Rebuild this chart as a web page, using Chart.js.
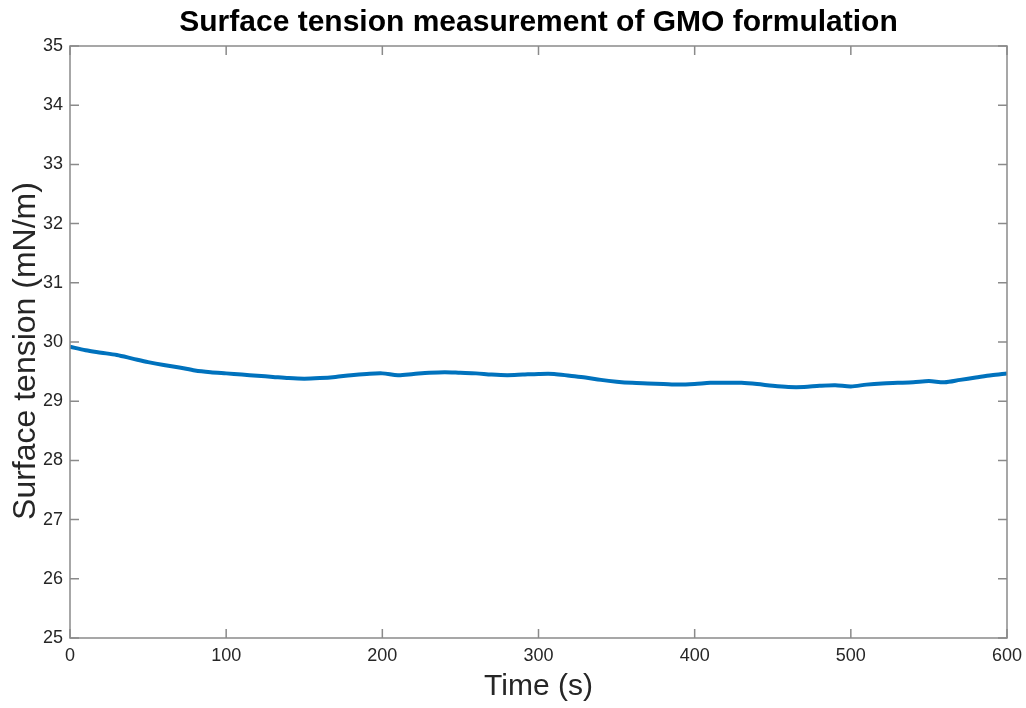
<!DOCTYPE html>
<html>
<head>
<meta charset="utf-8">
<script src="https://cdn.jsdelivr.net/npm/chart.js@4.4.0/dist/chart.umd.min.js"></script>
<style>
  html, body { margin: 0; padding: 0; background: #fff; }
  #wrap { width: 1026px; height: 708px; }
</style>
</head>
<body>
<div id="wrap"><canvas id="tensionChart" width="1026" height="708"></canvas></div>
<script>
// time in seconds, surface tension in mN/m
const timeSec = [0, 10, 20, 30, 40, 50, 60, 70, 80, 90,
  100, 110, 120, 130, 140, 150, 160, 170, 180, 190,
  200, 210, 220, 230, 240, 250, 260, 270, 280, 290,
  300, 310, 320, 330, 340, 350, 360, 370, 380, 390,
  400, 410, 420, 430, 440, 450, 460, 470, 480, 490,
  500, 510, 520, 530, 540, 550, 560, 570, 580, 590, 600];
const tension = [29.92, 29.86, 29.82, 29.78, 29.72, 29.66, 29.61, 29.57, 29.52, 29.49,
  29.47, 29.45, 29.43, 29.41, 29.39, 29.38, 29.39, 29.41, 29.44, 29.46,
  29.47, 29.44, 29.46, 29.48, 29.49, 29.48, 29.47, 29.45, 29.44, 29.45,
  29.46, 29.46, 29.43, 29.40, 29.36, 29.33, 29.31, 29.30, 29.29, 29.28,
  29.29, 29.31, 29.31, 29.31, 29.29, 29.26, 29.24, 29.24, 29.26, 29.27,
  29.25, 29.28, 29.30, 29.31, 29.32, 29.34, 29.32, 29.36, 29.40, 29.44, 29.47];
const xTicks = [0, 100, 200, 300, 400, 500, 600];
const yTicks = [25, 26, 27, 28, 29, 30, 31, 32, 33, 34, 35];

const chartTitle = 'Surface tension measurement of GMO formulation';
const yTitle = 'Surface tension (mN/m)';
const axisColor = '#8a8a8a';
const textColor = '#262626';
const fontFamily = '"Liberation Sans", Arial, sans-serif';

// matlab-like box with inward ticks on all sides, plus the titles
const boxPlugin = {
  id: 'boxPlugin',
  afterDraw(chart) {
    const { ctx, chartArea: a, scales } = chart;
    const len = 9;
    ctx.save();
    ctx.strokeStyle = axisColor;
    ctx.lineWidth = 1.5;
    ctx.strokeRect(a.left, a.top, a.right - a.left, a.bottom - a.top);
    ctx.beginPath();
    xTicks.forEach(v => {
      const px = scales.x.getPixelForValue(v);
      ctx.moveTo(px, a.bottom); ctx.lineTo(px, a.bottom - len);
      ctx.moveTo(px, a.top); ctx.lineTo(px, a.top + len);
    });
    yTicks.forEach(v => {
      const py = scales.y.getPixelForValue(v);
      ctx.moveTo(a.left, py); ctx.lineTo(a.left + len, py);
      ctx.moveTo(a.right, py); ctx.lineTo(a.right - len, py);
    });
    ctx.stroke();

    ctx.fillStyle = '#000';
    ctx.font = 'bold 30px ' + fontFamily;
    ctx.textAlign = 'center';
    ctx.textBaseline = 'middle';
    ctx.fillText(chartTitle, (a.left + a.right) / 2, 23);

    // y axis title, sits a little below the axes centre like the original
    ctx.fillStyle = textColor;
    ctx.font = '32px ' + fontFamily;
    ctx.translate(26, 351);
    ctx.rotate(-Math.PI / 2);
    ctx.fillText(yTitle, 0, 0);
    ctx.restore();
  }
};

new Chart(document.getElementById('tensionChart'), {
  type: 'line',
  data: {
    datasets: [{
      data: timeSec.map((t, i) => ({ x: t, y: tension[i] })),
      borderColor: '#0072BD',
      borderWidth: 4,
      pointRadius: 0,
      tension: 0.3,
      fill: false
    }]
  },
  options: {
    responsive: false,
    animation: false,
    layout: { padding: { left: 0, right: 19, top: 46, bottom: 0 } },
    plugins: {
      legend: { display: false },
      title: { display: false },
      tooltip: { enabled: false }
    },
    scales: {
      x: {
        type: 'linear',
        min: 0,
        max: 600,
        afterFit(scale) {
          scale.height = 70;
          scale.paddingLeft = 0;
          scale.paddingRight = 0;
        },
        afterBuildTicks(scale) { scale.ticks = xTicks.map(v => ({ value: v })); },
        grid: { display: false, drawTicks: false },
        border: { display: false },
        ticks: {
          padding: 7,
          color: textColor,
          font: { family: fontFamily, size: 18 },
          maxRotation: 0
        },
        title: {
          display: true,
          text: 'Time (s)',
          color: textColor,
          font: { family: fontFamily, size: 30 },
          padding: { top: 0, bottom: 3 }
        }
      },
      y: {
        type: 'linear',
        min: 25,
        max: 35,
        afterFit(scale) {
          scale.width = 70;
          scale.paddingTop = 0;
          scale.paddingBottom = 0;
        },
        afterBuildTicks(scale) { scale.ticks = yTicks.map(v => ({ value: v })); },
        grid: { display: false, drawTicks: false },
        border: { display: false },
        ticks: {
          padding: 7,
          color: textColor,
          font: { family: fontFamily, size: 18 }
        }
      }
    }
  },
  plugins: [boxPlugin]
});
</script>
</body>
</html>
